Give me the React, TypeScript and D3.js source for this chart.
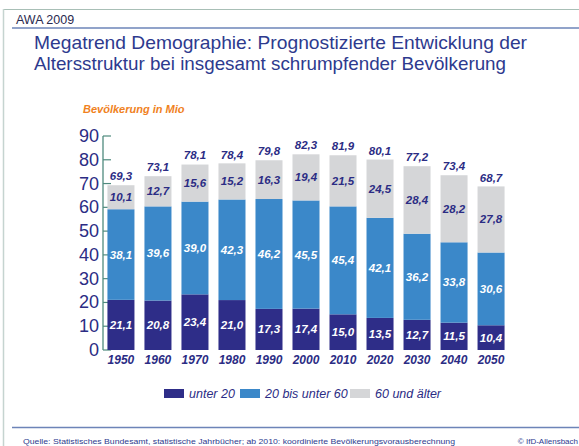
import React from "react";
import * as d3 from "d3";

const years = ["1950","1960","1970","1980","1990","2000","2010","2020","2030","2040","2050"];
const under20 = [21.1,20.8,23.4,21.0,17.3,17.4,15.0,13.5,12.7,11.5,10.4];
const mid = [38.1,39.6,39.0,42.3,46.2,45.5,45.4,42.1,36.2,33.8,30.6];
const over60 = [10.1,12.7,15.6,15.2,16.3,19.4,21.5,24.5,28.4,28.2,27.8];
const totals = [69.3,73.1,78.1,78.4,79.8,82.3,81.9,80.1,77.2,73.4,68.7];
const yTicks = [0,10,20,30,40,50,60,70,80,90];
const seriesNames = ["unter 20","20 bis unter 60","60 und älter"];

const NAVY = "#2b2c84";
const COLORS = ["#2e2d88", "#3b88c9", "#d5d6d8"];
const LABEL_COLORS = ["#ffffff", "#ffffff", "#2b2c84"];

const fmt = (v: number) => v.toFixed(1).replace(".", ",");

export default function App() {
  const W = 579, H = 446;
  const x = d3.scaleBand<string>().domain(years).range([103, 509]).paddingInner(0.27).paddingOuter(0.12);
  const y = d3.scaleLinear().domain([0, 90]).range([350, 136]);
  const series = [under20, mid, over60];
  const stackData = years.map((yr, i) => ({ year: yr, a: under20[i], b: mid[i], c: over60[i] }));
  const stacked = d3.stack<any>().keys(["a", "b", "c"])(stackData);
  const font = "'Liberation Sans', Arial, sans-serif";

  return (
    <svg width={W} height={H} style={{ position: "absolute", left: 0, top: 0, background: "#fff" }} fontFamily={font}>
      <rect x={0} y={0} width={W} height={H} fill="#ffffff" />
      {/* frame */}
      <line x1={3} x2={W} y1={9.5} y2={9.5} stroke="#a8bfb6" strokeWidth={1.2} />
      <line x1={3.5} x2={3.5} y1={9} y2={H} stroke="#c5d4d0" strokeWidth={1.5} />
      <line x1={12} x2={W} y1={28} y2={28} stroke="#6d84b8" strokeWidth={1.3} />
      <text x={16} y={24} fontSize={12.5} fill="#2a2a50">AWA 2009</text>
      <text x={34} y={48.5} fontSize={18.5} fill="#2d3a8e" textLength={493} lengthAdjust="spacingAndGlyphs">Megatrend Demographie: Prognostizierte Entwicklung der</text>
      <text x={34} y={69.5} fontSize={18.5} fill="#2d3a8e" textLength={472} lengthAdjust="spacingAndGlyphs">Altersstruktur bei insgesamt schrumpfender Bevölkerung</text>
      <text x={83} y={113} fontSize={11} fontWeight="bold" fontStyle="italic" fill="#f0821e">Bevölkerung in Mio</text>

      {/* axis */}
      <line x1={103} x2={103} y1={y(90)} y2={y(0)} stroke="#4f8a7e" strokeWidth={1.3} />
      {yTicks.map(t => (
        <g key={t}>
          <line x1={103} x2={111} y1={y(t)} y2={y(t)} stroke="#4f8a7e" strokeWidth={1.2} />
          <text x={99} y={y(t) + 6} fontSize={18} textAnchor="end" fill={NAVY}>{t}</text>
        </g>
      ))}

      {/* bars */}
      {stacked.map((s, si) => (
        <g key={si}>
          {s.map((d, i) => {
            const x0 = x(years[i])!;
            const bw = x.bandwidth();
            const top = y(d[1]);
            const bot = y(d[0]);
            return (
              <g key={i}>
                <rect x={x0} y={top} width={bw} height={bot - top} fill={COLORS[si]} />
                <text x={x0 + bw / 2} y={(top + bot) / 2 + 4} fontSize={11.5} fontWeight="bold" fontStyle="italic"
                  textAnchor="middle" fill={LABEL_COLORS[si]}>{fmt(series[si][i])}</text>
              </g>
            );
          })}
        </g>
      ))}
      {years.map((yr, i) => (
        <g key={yr}>
          <text x={x(yr)! + x.bandwidth() / 2} y={y(totals[i]) - 5} fontSize={11.5} fontWeight="bold" fontStyle="italic"
            textAnchor="middle" fill={NAVY}>{fmt(totals[i])}</text>
          <text x={x(yr)! + x.bandwidth() / 2} y={364} fontSize={12} fontWeight="bold" fontStyle="italic"
            textAnchor="middle" fill={NAVY}>{yr}</text>
        </g>
      ))}

      {/* legend */}
      {[164, 240, 350].map((lx, i) => (
        <g key={i}>
          <rect x={lx} y={389} width={20} height={9} fill={COLORS[i]} />
          <text x={lx + 25} y={398} fontSize={12.5} fontStyle="italic" fill={NAVY}>{seriesNames[i]}</text>
        </g>
      ))}

      <line x1={12} x2={W} y1={427.5} y2={427.5} stroke="#6d84b8" strokeWidth={1.5} />
      <text x={23} y={444} fontSize={8} fill="#2d3a8e" textLength={432} lengthAdjust="spacingAndGlyphs">Quelle: Statistisches Bundesamt, statistische Jahrbücher; ab 2010: koordinierte Bevölkerungsvorausberechnung</text>
      <text x={578} y={444} fontSize={8} fill="#2d3a8e" textAnchor="end">© IfD-Allensbach</text>
    </svg>
  );
}
